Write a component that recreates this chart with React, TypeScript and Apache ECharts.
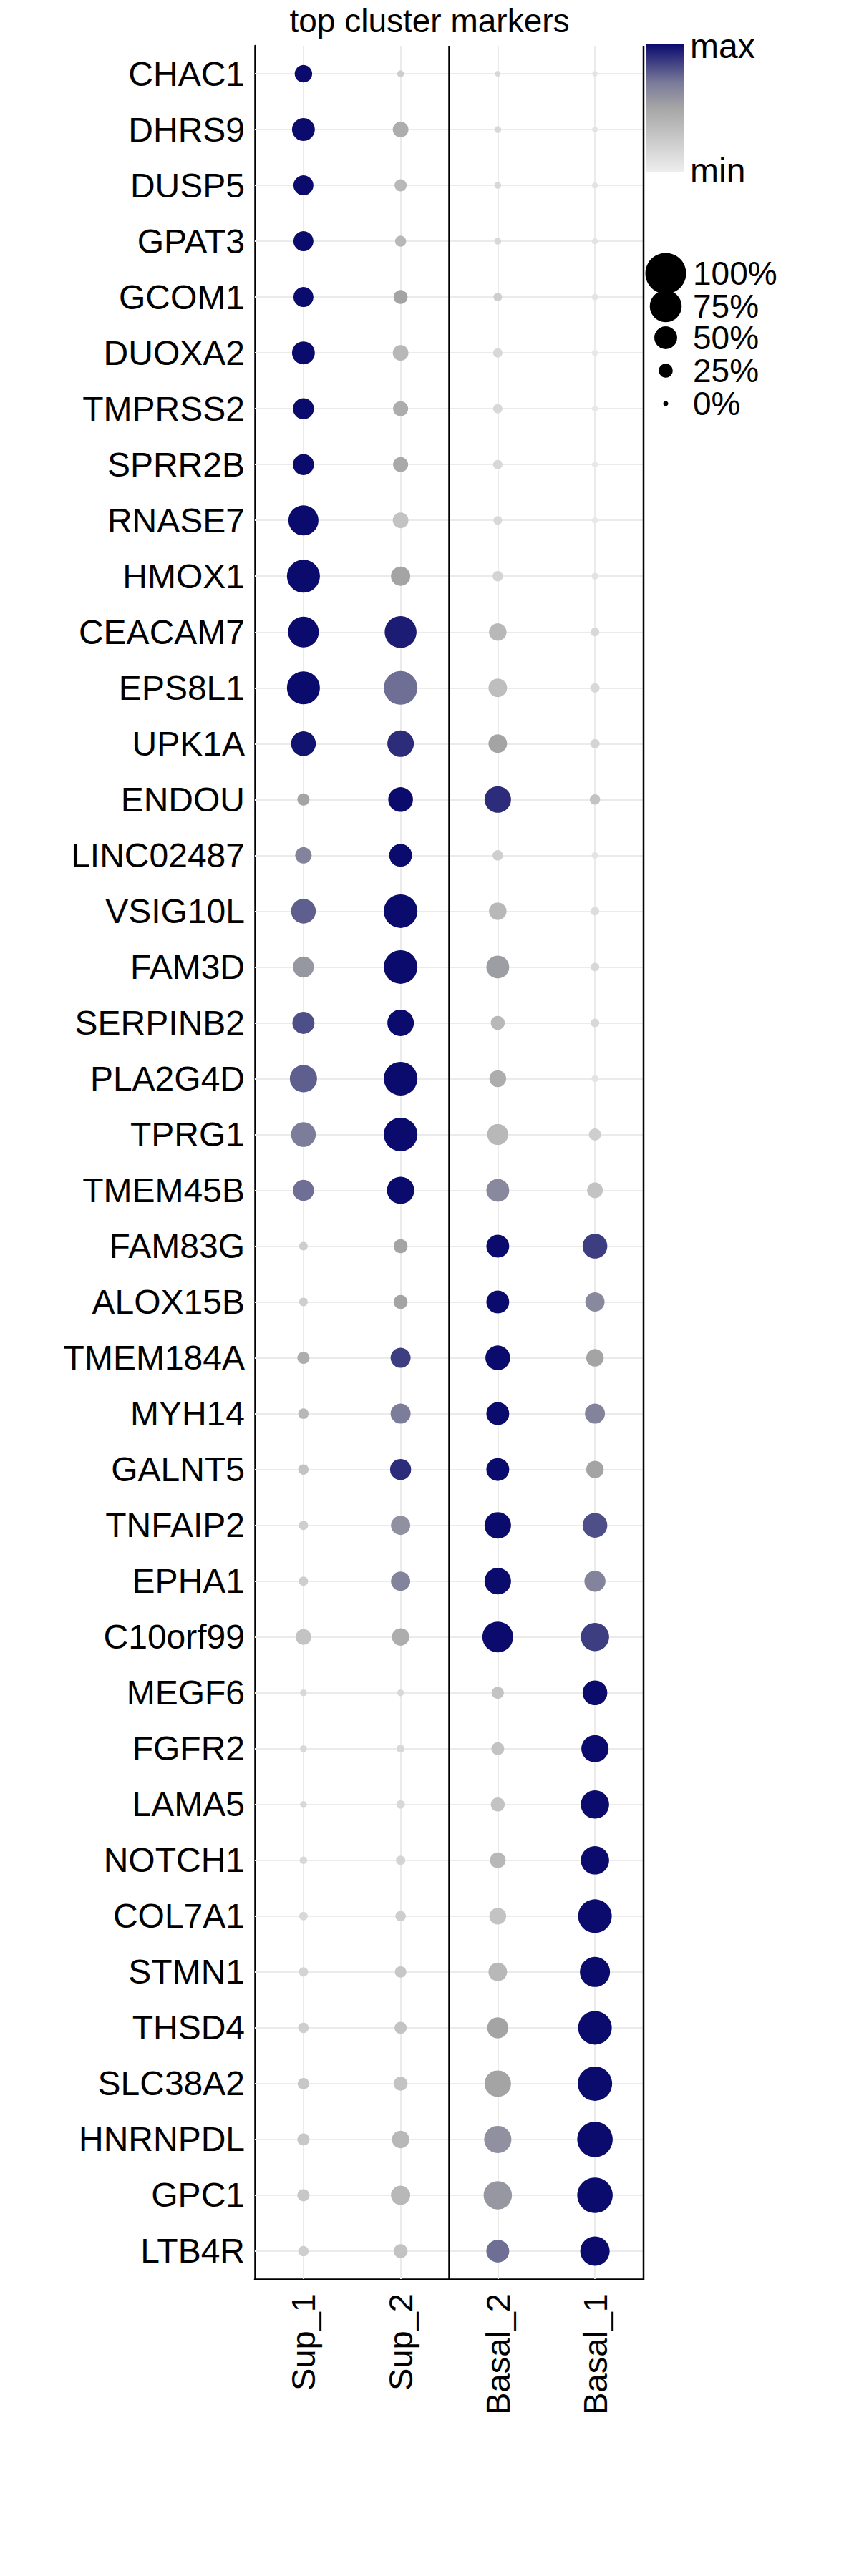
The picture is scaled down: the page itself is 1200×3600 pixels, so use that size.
import React, { useEffect, useRef } from "react";
import * as echarts from "echarts";

const clusters = ["Sup_1", "Sup_2", "Basal_2", "Basal_1"];
const genes = ["CHAC1","DHRS9","DUSP5","GPAT3","GCOM1","DUOXA2","TMPRSS2","SPRR2B","RNASE7","HMOX1","CEACAM7","EPS8L1","UPK1A","ENDOU","LINC02487","VSIG10L","FAM3D","SERPINB2","PLA2G4D","TPRG1","TMEM45B","FAM83G","ALOX15B","TMEM184A","MYH14","GALNT5","TNFAIP2","EPHA1","C10orf99","MEGF6","FGFR2","LAMA5","NOTCH1","COL7A1","STMN1","THSD4","SLC38A2","HNRNPDL","GPC1","LTB4R"];
// percent expressing per gene: [Sup_1, Sup_2, Basal_2, Basal_1]
const pctExpr = [
  [0.35,0.05,0.02,0.01],[0.5,0.3,0.05,0.02],[0.42,0.2,0.05,0.03],[0.42,0.17,0.05,0.03],[0.42,0.25,0.1,0.04],
  [0.5,0.3,0.12,0.03],[0.45,0.28,0.12,0.03],[0.45,0.28,0.12,0.03],[0.7,0.3,0.1,0.03],[0.78,0.4,0.15,0.05],
  [0.72,0.75,0.35,0.1],[0.78,0.8,0.38,0.12],[0.55,0.6,0.38,0.12],[0.2,0.55,0.6,0.15],[0.32,0.5,0.15,0.04],
  [0.55,0.8,0.35,0.1],[0.45,0.8,0.5,0.1],[0.48,0.6,0.25,0.1],[0.62,0.8,0.33,0.05],[0.55,0.8,0.45,0.2],
  [0.45,0.62,0.5,0.3],[0.1,0.25,0.5,0.55],[0.1,0.25,0.5,0.4],[0.2,0.42,0.55,0.35],[0.15,0.42,0.5,0.42],
  [0.15,0.45,0.5,0.35],[0.12,0.4,0.6,0.55],[0.12,0.4,0.6,0.45],[0.3,0.35,0.72,0.65],[0.05,0.05,0.2,0.55],
  [0.05,0.08,0.22,0.62],[0.05,0.1,0.25,0.65],[0.07,0.12,0.3,0.65],[0.1,0.15,0.33,0.8],[0.12,0.18,0.38,0.7],
  [0.15,0.2,0.45,0.8],[0.18,0.25,0.6,0.82],[0.2,0.35,0.62,0.85],[0.2,0.4,0.65,0.85],[0.15,0.25,0.5,0.68],
];
// scaled average expression per gene: [Sup_1, Sup_2, Basal_2, Basal_1]
const avgExpr = [
  [1,0.15,0.1,0.05],[1,0.3,0.1,0.05],[1,0.25,0.1,0.05],[1,0.25,0.1,0.05],[1,0.35,0.15,0.05],
  [1,0.25,0.1,0.03],[1,0.3,0.1,0.03],[1,0.32,0.1,0.03],[1,0.2,0.1,0.03],[1,0.35,0.12,0.05],
  [1,0.95,0.25,0.1],[1,0.7,0.22,0.1],[0.98,0.9,0.35,0.12],[0.35,1,0.9,0.2],[0.6,1,0.15,0.05],
  [0.75,1,0.25,0.08],[0.45,1,0.4,0.1],[0.8,1,0.25,0.1],[0.75,1,0.3,0.05],[0.65,1,0.25,0.15],
  [0.7,1,0.55,0.2],[0.15,0.35,1,0.85],[0.15,0.35,1,0.55],[0.3,0.85,1,0.35],[0.25,0.65,1,0.6],
  [0.2,0.9,1,0.35],[0.15,0.5,1,0.8],[0.15,0.6,1,0.6],[0.2,0.3,1,0.85],[0.1,0.1,0.2,1],
  [0.1,0.1,0.2,1],[0.1,0.1,0.2,1],[0.1,0.12,0.25,1],[0.1,0.15,0.2,1],[0.12,0.18,0.25,1],
  [0.15,0.2,0.35,1],[0.18,0.2,0.35,1],[0.18,0.25,0.5,1],[0.18,0.25,0.45,1],[0.15,0.2,0.7,1],
];
const sizeLegendPct = [1, 0.75, 0.5, 0.25, 0];
const sizeLegendLabels = ["100%", "75%", "50%", "25%", "0%"];
const colorStops = ["#eeeeee", "#a6a6a6", "#7a7a9a", "#0b0b6e"];

const FONT = "Liberation Sans, Arial, sans-serif";
const sizeOf = (p: number) => 7 + 50 * p;

export default function App() {
  const ref = useRef<HTMLDivElement>(null);
  useEffect(() => {
    document.body.style.margin = "0";
    const chart = echarts.init(ref.current!, null, { renderer: "svg" });
    const gl = 356, gr = 301, gt = 64, gh = 3121;
    const gw = 1200 - gl - gr;
    const data: any[] = [];
    genes.forEach((g, i) => clusters.forEach((c, j) => data.push([c, g, pctExpr[i][j], avgExpr[i][j]])));
    const graphics: any[] = [
      { type: "text", left: "center", x: 0, top: 6, style: { text: "top cluster markers", font: `46px ${FONT}`, fill: "#000" } },
      { type: "line", z: 20, shape: { x1: gl + gw / 2, y1: gt, x2: gl + gw / 2, y2: gt + gh }, style: { stroke: "#000", lineWidth: 2.5 } },
      { type: "line", z: 20, shape: { x1: gl + gw, y1: gt, x2: gl + gw, y2: gt + gh }, style: { stroke: "#000", lineWidth: 2.5 } },
      { type: "rect", shape: { x: 902, y: 62, width: 53, height: 178 }, style: { fill: new echarts.graphic.LinearGradient(0, 1, 0, 0, colorStops.map((c, k) => ({ offset: [0, 0.5, 0.7, 1][k], color: c }))) } },
      { type: "text", x: 964, y: 64, style: { text: "max", font: `48px ${FONT}`, fill: "#000", verticalAlign: "middle" } },
      { type: "text", x: 964, y: 238, style: { text: "min", font: `48px ${FONT}`, fill: "#000", verticalAlign: "middle" } },
    ];
    const legY = [382, 428, 472, 518, 564];
    sizeLegendPct.forEach((p, k) => {
      graphics.push({ type: "circle", shape: { cx: 930, cy: legY[k], r: sizeOf(p) / 2 }, style: { fill: "#000" } });
      graphics.push({ type: "text", x: 968, y: legY[k], style: { text: sizeLegendLabels[k], font: `46px ${FONT}`, fill: "#000", verticalAlign: "middle" } });
    });
    chart.setOption({
      animation: false,
      grid: { left: gl, right: gr, top: gt, height: gh },
      xAxis: {
        type: "category", data: clusters,
        axisLine: { lineStyle: { color: "#000", width: 2.5 } }, axisTick: { show: false },
        axisLabel: { rotate: 90, fontSize: 47, fontFamily: FONT, color: "#000", margin: 20 },
        splitLine: { show: false },
      },
      yAxis: {
        type: "category", data: genes, inverse: true,
        axisLine: { lineStyle: { color: "#000", width: 2.5 } }, axisTick: { show: false },
        axisLabel: { fontSize: 48, fontFamily: FONT, color: "#000", margin: 14 },
        splitLine: { show: false },
      },
      visualMap: { show: false, dimension: 3, min: 0, max: 1, seriesIndex: 1, inRange: { color: colorStops } },
      graphic: graphics,
      series: [
        {
          type: "scatter", data: [], z: 1, silent: true,
          markLine: {
            symbol: "none", silent: true, label: { show: false }, z: 1,
            lineStyle: { color: "#ebebeb", width: 2, type: "solid" },
            data: [...clusters.map((c) => ({ xAxis: c })), ...genes.map((g) => ({ yAxis: g }))],
          },
        },
        { type: "scatter", zlevel: 1, z: 10, data, itemStyle: { opacity: 1 }, symbolSize: (v: any) => sizeOf(v[2]) },
      ],
    });
    return () => chart.dispose();
  }, []);
  return <div ref={ref} style={{ width: 1200, height: 3600 }} />;
}
